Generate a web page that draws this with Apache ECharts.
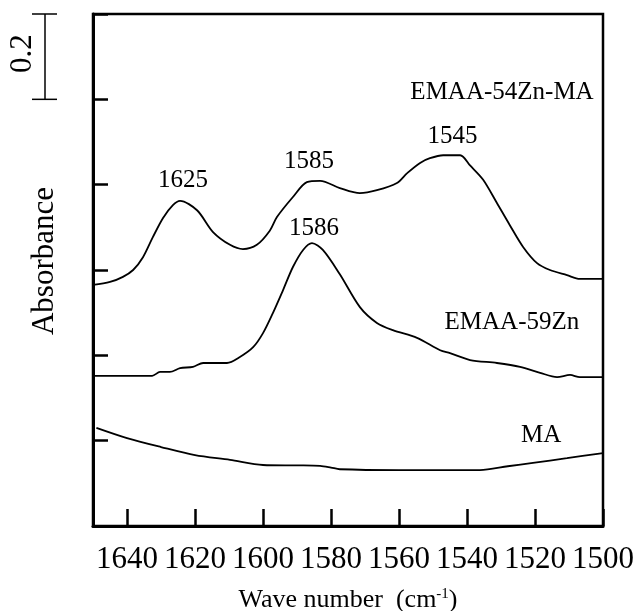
<!DOCTYPE html>
<html>
<head>
<meta charset="utf-8">
<script src="https://cdn.jsdelivr.net/npm/echarts@6/dist/echarts.min.js"></script>
<style>
	html, body { margin: 0; padding: 0; background: #fff; }
	#chart { width: 635px; height: 611px; }
</style>
</head>
<body>
<div id="chart"></div>
<script>
	/* 波数 / 吸光度 */
	const zn54Wn = [1650, 1645, 1641.2, 1638.2, 1635.3, 1632.4, 1629.4, 1626.5, 1624.4, 1619.4, 1614.7, 1609.7, 1605.9, 1601.8, 1598, 1595.9, 1591.2, 1587.1, 1583.2, 1577.4, 1571.5, 1566.5, 1560.6, 1557.6, 1553.8, 1550.9, 1547, 1542, 1539.1, 1535.3, 1531.2, 1527.4, 1523.5, 1519.4, 1515.6, 1510.6, 1506.8, 1500];
	const zn54Abs = [0.565, 0.572, 0.584, 0.600, 0.630, 0.677, 0.722, 0.752, 0.762, 0.740, 0.689, 0.659, 0.649, 0.659, 0.692, 0.724, 0.771, 0.806, 0.809, 0.792, 0.780, 0.787, 0.804, 0.827, 0.851, 0.862, 0.869, 0.869, 0.845, 0.812, 0.757, 0.705, 0.654, 0.616, 0.600, 0.588, 0.579, 0.579];

	const zn59Wn = [1650, 1632.6, 1630.3, 1627.4, 1624.4, 1620.6, 1617.6, 1610.6, 1606.8, 1602.9, 1600, 1597.1, 1594.1, 1591.2, 1588.2, 1585.6, 1582.4, 1577.4, 1571.5, 1566.5, 1561.8, 1554.7, 1547.9, 1545, 1539.1, 1531.2, 1524.4, 1518.5, 1513.5, 1509.7, 1506.8, 1500];
	const zn59Abs = [0.352, 0.352, 0.361, 0.361, 0.370, 0.373, 0.382, 0.382, 0.396, 0.419, 0.452, 0.499, 0.553, 0.607, 0.647, 0.663, 0.647, 0.590, 0.513, 0.476, 0.459, 0.441, 0.412, 0.405, 0.389, 0.382, 0.373, 0.359, 0.349, 0.354, 0.349, 0.349];

	const maWn = [1649, 1640, 1630, 1620, 1609.7, 1600, 1590, 1583.2, 1580, 1577.4, 1560, 1536.2, 1528, 1520.6, 1510.6, 1500];
	const maAbs = [0.230, 0.206, 0.185, 0.166, 0.155, 0.143, 0.142, 0.141, 0.137, 0.133, 0.131, 0.131, 0.140, 0.148, 0.159, 0.171];

	const xTicks = [1640, 1620, 1600, 1580, 1560, 1540, 1520, 1500];

	/* 标注 */
	const noteTexts = ['EMAA-54Zn-MA', '1545', '1585', '1625', '1586', 'EMAA-59Zn', 'MA'];
	const noteWn = [1529.7, 1544.3, 1586.5, 1623.5, 1585, 1526.8, 1518.2];
	const noteAbs = [1.017, 0.912, 0.855, 0.809, 0.697, 0.476, 0.213];

	const scaleBar = [1.0, 1.2];

	const font = "'Liberation Serif', 'Times New Roman', serif";
	const pairs = (xs, ys) => xs.map((x, i) => [x, ys[i]]);

	const chart = echarts.init(document.getElementById('chart'));

	const lineSeries = (name, data) => ({
		type: 'line',
		name,
		data,
		showSymbol: false,
		smooth: 0.3,
		lineStyle: { color: '#000', width: 1.8 },
		itemStyle: { color: '#000' },
		animation: false
	});

	chart.setOption({
		animation: false,
		grid: {
			left: 93,
			right: 32,
			top: 14,
			bottom: 85,
			containLabel: false,
			outerBoundsMode: 'none',
			show: true,
			borderColor: '#000',
			borderWidth: 2.5
		},
		xAxis: {
			type: 'value',
			min: 1500,
			max: 1650,
			interval: 20,
			inverse: true,
			name: 'Wave number  (cm{sup|-1})',
			nameLocation: 'middle',
			nameGap: 61,
			nameTextStyle: {
				color: '#000',
				fontFamily: font,
				fontSize: 26,
				rich: {
					sup: { fontFamily: font, fontSize: 15, color: '#000', verticalAlign: 'top' }
				}
			},
			axisLine: { lineStyle: { color: '#000', width: 3 } },
			axisTick: { inside: true, length: 17, lineStyle: { color: '#000', width: 2.5 } },
			splitLine: { show: false },
			axisLabel: {
				color: '#000',
				fontFamily: font,
				fontSize: 31,
				margin: 18,
				hideOverlap: false,
				formatter: v => (xTicks.includes(v) ? String(v) : '')
			}
		},
		yAxis: {
			type: 'value',
			min: 0,
			max: 1.2,
			interval: 0.2,
			name: 'Absorbance',
			nameLocation: 'middle',
			nameGap: 33,
			nameTextStyle: { color: '#000', fontFamily: font, fontSize: 31, padding: [0, 0, 0, 18] },
			axisLine: { lineStyle: { color: '#000', width: 3 } },
			axisTick: { inside: true, length: 15, lineStyle: { color: '#000', width: 2.5 } },
			axisLabel: { show: false },
			splitLine: { show: false }
		},
		series: [
			lineSeries('EMAA-54Zn-MA', pairs(zn54Wn, zn54Abs)),
			lineSeries('EMAA-59Zn', pairs(zn59Wn, zn59Abs)),
			lineSeries('MA', pairs(maWn, maAbs))
		]
	});

	/* 文字标注和比例尺 */
	const toPx = (x, y) => chart.convertToPixel({ gridIndex: 0 }, [x, y]);
	const notes = noteTexts.map((t, i) => {
		const p = toPx(noteWn[i], noteAbs[i]);
		return {
			type: 'text',
			x: p[0],
			y: p[1],
			style: { text: t, fill: '#000', font: `25px ${font}`, textAlign: 'center', textVerticalAlign: 'middle' }
		};
	});
	const barTop = toPx(1650, scaleBar[1])[1];
	const barBottom = toPx(1650, scaleBar[0])[1];
	const barX = 45;
	chart.setOption({
		graphic: [
			...notes,
			{ type: 'line', shape: { x1: barX, y1: barTop, x2: barX, y2: barBottom }, style: { stroke: '#000', lineWidth: 1.5 } },
			{ type: 'line', shape: { x1: barX - 13, y1: barTop, x2: barX + 12, y2: barTop }, style: { stroke: '#000', lineWidth: 1.5 } },
			{ type: 'line', shape: { x1: barX - 13, y1: barBottom, x2: barX + 12, y2: barBottom }, style: { stroke: '#000', lineWidth: 1.5 } },
			{
				type: 'text',
				x: 23,
				y: (barTop + barBottom) / 2 - 3,
				rotation: Math.PI / 2,
				style: { text: (scaleBar[1] - scaleBar[0]).toFixed(1), fill: '#000', font: `31px ${font}`, textAlign: 'center', textVerticalAlign: 'middle' }
			}
		]
	});
</script>
</body>
</html>
